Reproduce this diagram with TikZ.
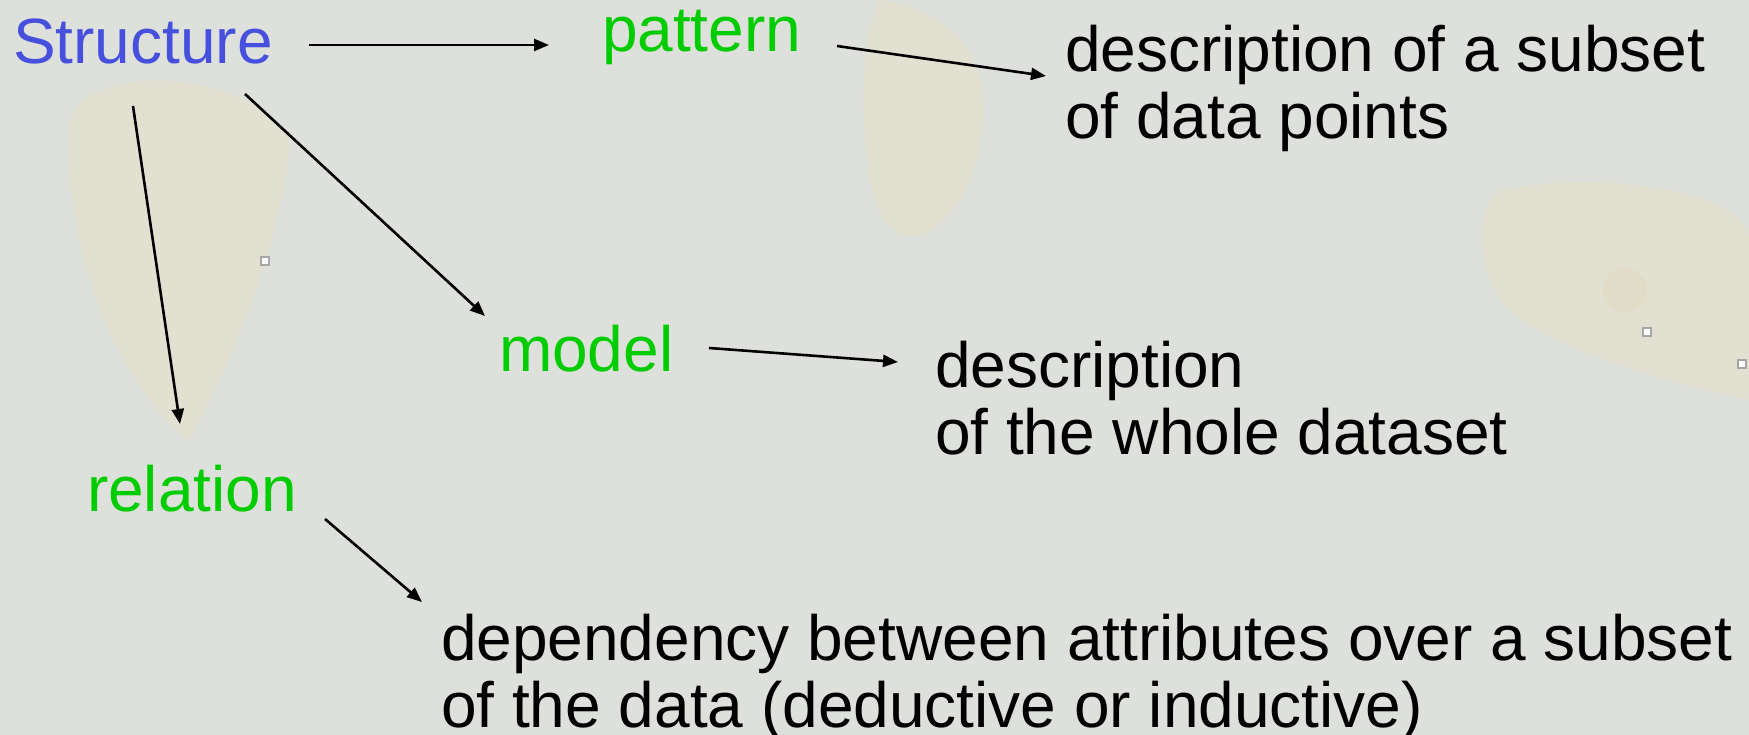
\documentclass[tikz,border=0pt]{standalone}
\usepackage{fontspec}
\setmainfont{Liberation Sans}
\usetikzlibrary{arrows.meta}
\definecolor{bgc}{HTML}{DEE0DC}
\definecolor{blob}{HTML}{EAE0C0}
\definecolor{sblue}{HTML}{4650DC}
\definecolor{sgreen}{HTML}{00CC00}
\tikzset{
  txt/.style={inner sep=0pt, outer sep=0pt, anchor=base west, align=left,
    font=\fontsize{64}{67}\selectfont},
  head/.style={txt, text=sblue},
  term/.style={txt, text=sgreen},
  desc/.style={txt, text=black},
  arr/.style={line width=2.6pt, -{Triangle[length=15pt,width=12pt]}},
  handle/.style={fill=white, draw=gray!70, line width=1.5pt}
}
\begin{document}
\begin{tikzpicture}[x=1pt,y=-1pt]
\fill[bgc] (0,0) rectangle (1749,735);
\useasboundingbox (0,0) rectangle (1749,735);
% faint background blobs
\fill[blob, opacity=0.4] (70,120) .. controls (90,60) and (250,70) .. (290,140)
  .. controls (280,260) and (220,380) .. (190,440) .. controls (130,400) and (60,260) .. cycle;
\fill[blob, opacity=0.4] (880,0) .. controls (1000,20) and (1000,120) .. (960,200)
  .. controls (920,260) and (880,240) .. (870,180) .. controls (860,120) and (860,40) .. cycle;
\fill[blob, opacity=0.4] (1500,190) .. controls (1600,170) and (1749,190) .. (1749,240)
  -- (1749,400) .. controls (1650,380) and (1530,340) .. (1500,300) .. controls (1480,260) and (1470,220) .. cycle;
\fill[blob!80!brown, opacity=0.18] (1625,290) circle (22);
% handles
\filldraw[handle] (261,257) rectangle (269,265);
\filldraw[handle] (1643,328) rectangle (1651,336);
\filldraw[handle] (1738,360) rectangle (1746,368);
% nodes
\node[head] (S) at (13,64) {Structure};
\node[term] (P) at (602,52) {pattern};
\node[desc] (D1) at (1065,139) {description of a subset\\of data points};
\node[term] (M) at (499,371) {model};
\node[desc] (D2) at (935,454) {description\\of the whole dataset};
\node[term] (R) at (87,511) {relation};
\node[desc] (D3) at (441,727) {dependency between attributes over a subset\\of the data (deductive or inductive)};
% connectors
\draw[arr] ([shift={(296,-19)}]S.base west) -- ([shift={(-53,-7)}]P.base west);
\draw[arr] ([shift={(235,-6)}]P.base west) -- ([shift={(-19,-63)}]D1.base west);
\draw[arr] ([shift={(232,30)}]S.base west) -- ([shift={(-14,-55)}]M.base west);
\draw[arr] ([shift={(120,42)}]S.base west) -- ([shift={(93,-87)}]R.base west);
\draw[arr] ([shift={(210,-23)}]M.base west) -- ([shift={(-37,-92)}]D2.base west);
\draw[arr] ([shift={(238,8)}]R.base west) -- ([shift={(-19,-125)}]D3.base west);
\end{tikzpicture}
\end{document}
